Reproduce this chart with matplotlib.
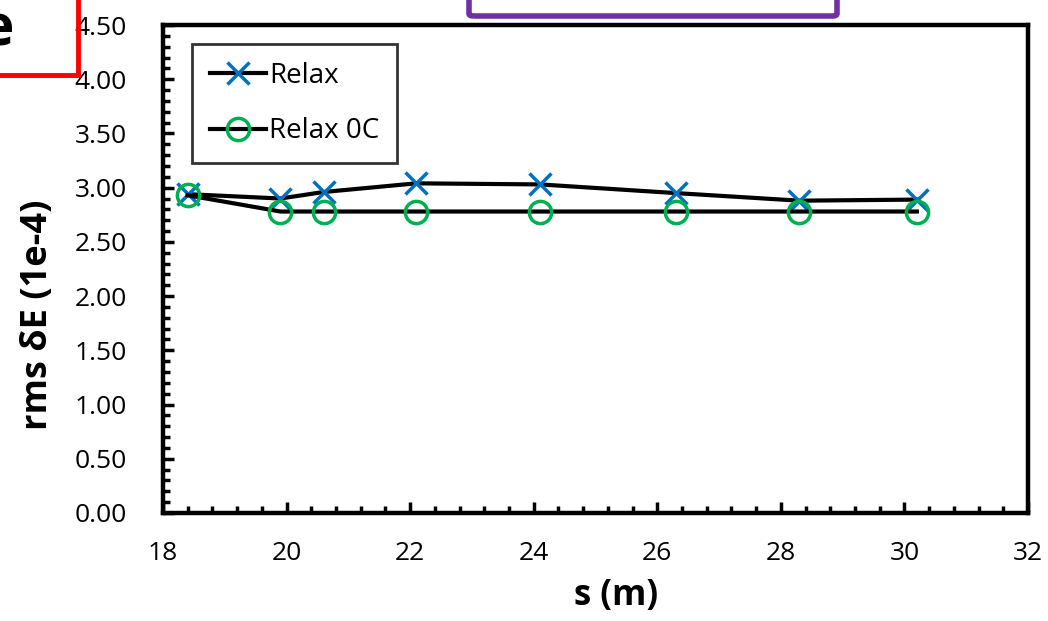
import matplotlib
matplotlib.use("Agg")
import matplotlib.pyplot as plt
from matplotlib.ticker import MultipleLocator, FormatStrFormatter
from matplotlib.patches import FancyBboxPatch
from matplotlib.lines import Line2D

plt.rcParams['font.family'] = ['Open Sans', 'DejaVu Sans']

s_relax = [18.4, 19.9, 20.6, 22.1, 24.1, 26.3, 28.3, 30.2]
relax = [2.94, 2.90, 2.96, 3.04, 3.03, 2.95, 2.88, 2.89]
s_relax0c = [18.4, 19.9, 20.6, 22.1, 24.1, 26.3, 28.3, 30.2]
relax0c = [2.93, 2.78, 2.78, 2.78, 2.78, 2.78, 2.78, 2.78]

fig = plt.figure(figsize=(10.48, 6.21), dpi=100)
ax = fig.add_axes([0.1555, 0.174, 0.8255, 0.7857])

ax.plot(s_relax, relax, color='black', lw=3, marker='x', ms=16, mec='#0070C0',
        mew=2.5, label='Relax', zorder=3)
ax.plot(s_relax0c, relax0c, color='black', lw=3, marker='o', ms=16, mfc='none',
        mec='#00B050', mew=2.5, label='Relax 0C', zorder=3)

ax.set_xlim(18, 32)
ax.set_ylim(0, 4.5)
ax.xaxis.set_major_locator(MultipleLocator(2))
ax.xaxis.set_minor_locator(MultipleLocator(0.4))
ax.yaxis.set_major_locator(MultipleLocator(0.5))
ax.yaxis.set_minor_locator(MultipleLocator(0.1))
ax.yaxis.set_major_formatter(FormatStrFormatter('%.2f'))
ax.tick_params(which='major', direction='in', length=8, width=2.5, labelsize=19)
ax.tick_params(which='minor', direction='in', length=5, width=2.5)
ax.tick_params(axis='x', which='major', pad=20)
ax.tick_params(axis='y', which='major', pad=26)
for sp in ax.spines.values():
    sp.set_linewidth(3.2)

ax.set_xlabel('s (m)', fontsize=25, fontweight='bold')
ax.set_ylabel('rms δE (1e-4)', fontsize=26, fontweight='bold')
ax.xaxis.set_label_coords((616 - 163) / 865, (513 - 578) / 489)
ax.yaxis.set_label_coords((56 - 163) / 865, (513 - 314) / 489)

leg = ax.legend(loc='upper left', bbox_to_anchor=(0.034, 0.962), fontsize=20,
                frameon=True, fancybox=False, edgecolor='black', handlelength=2.0,
                handletextpad=0.1, borderpad=0.65, labelspacing=1.0, borderaxespad=0)
leg.get_frame().set_linewidth(2)

# decorations: red box and purple box from the slide
fig.add_artist(Line2D([0, 78/1048], [1-75/621, 1-75/621], color='red', lw=3.5,
                      transform=fig.transFigure))
fig.add_artist(Line2D([78/1048, 78/1048], [1, 1-75/621], color='red', lw=3.5,
                      transform=fig.transFigure))
fig.text(-0.02, 1-30/621, 'e', fontsize=42, fontweight='bold', va='center', ha='left')
fig.add_artist(FancyBboxPatch((469/1048, 1-16/621), (837-469)/1048, 0.1,
                              boxstyle='round,pad=0,rounding_size=0.004',
                              fc='none', ec='#7030A0', lw=4, transform=fig.transFigure))

fig.savefig('out.png', dpi=100)
